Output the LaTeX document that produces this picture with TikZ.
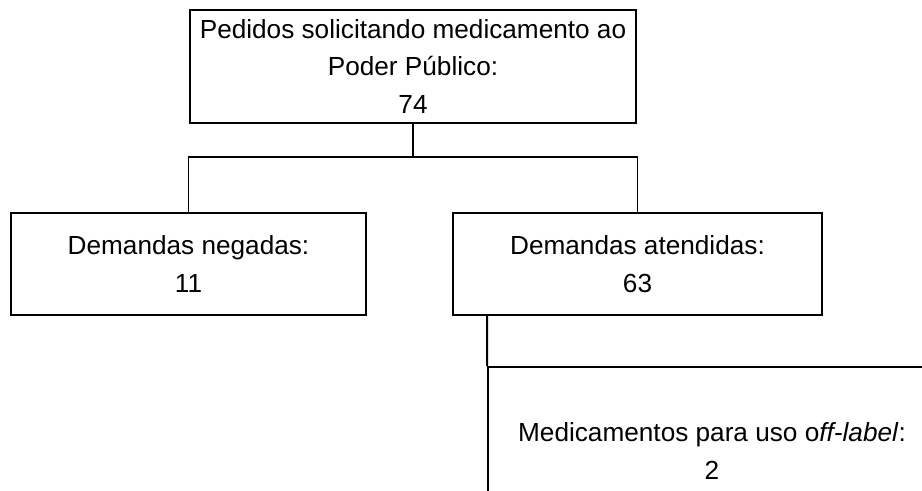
\documentclass[tikz,border=0pt]{standalone}
\usepackage{fontspec}
\setmainfont{Liberation Sans}
\begin{document}
\begin{tikzpicture}[x=0.02cm, y=-0.02cm, line width=1.1pt,
				every node/.style = {shape=rectangle, draw, align=center,
					inner sep=0pt, font=\fontsize{14.9}{21.6}\selectfont}]
				\clip (0,0) rectangle (922,490);
				\node[minimum width=8.92cm, minimum height=2.26cm] (pedidos) at (413,66.5)
					{Pedidos solicitando medicamento ao\\ Poder Público:\\ 74};
				\node[minimum width=7.1cm, minimum height=2.04cm] (negadas) at (188.5,264)
					{Demandas negadas:\\ 11};
				\node[minimum width=7.38cm, minimum height=2.04cm] (atendidas) at (637.5,264)
					{Demandas atendidas:\\ 63};
				\node[minimum width=8.96cm, minimum height=3.36cm] (offlabel) at (712,451)
					{Medicamentos para uso o\textit{ff-label}:\\ 2};
				\draw (pedidos.south) -- ++(0,33) -| (negadas.north);
				\draw (pedidos.south) -- ++(0,33) -| (atendidas.north);
				\draw (atendidas.south west) ++(35,0) -- (offlabel.north west);
			\end{tikzpicture}
\end{document}
